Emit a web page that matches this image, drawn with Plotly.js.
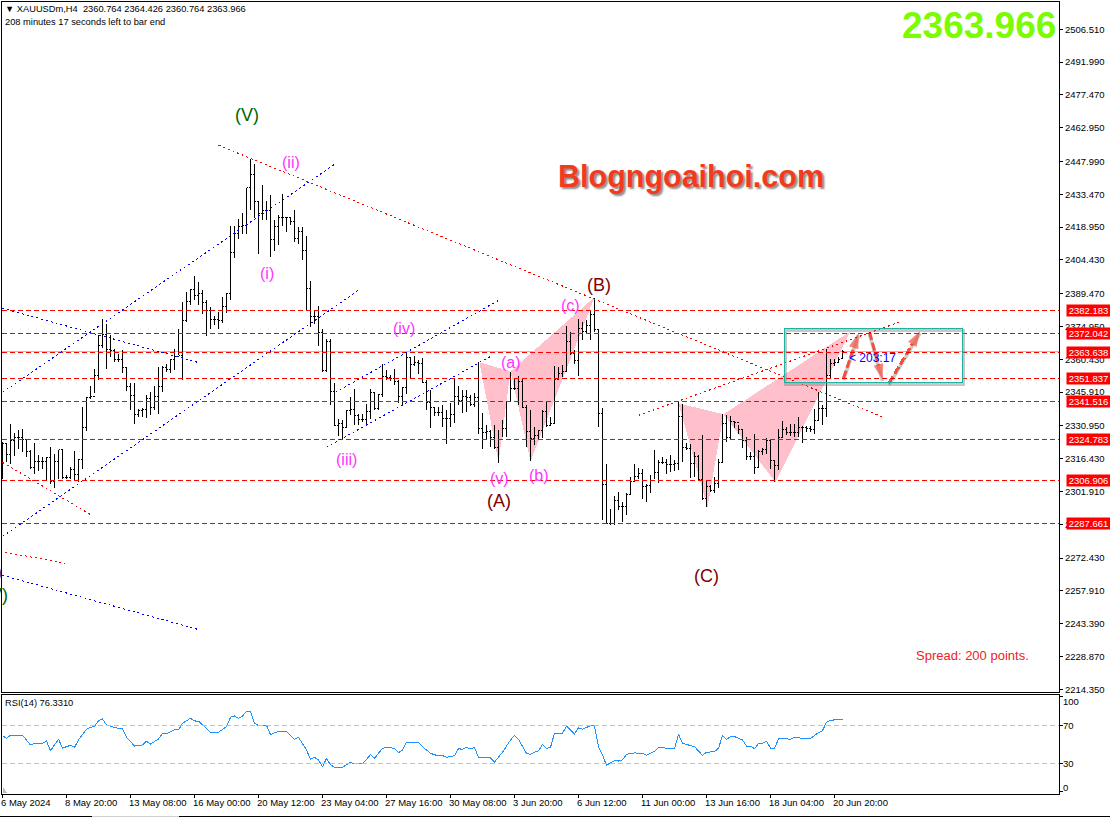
<!DOCTYPE html>
<html><head><meta charset="utf-8">
<script src="https://cdn.plot.ly/plotly-3.0.1.min.js"></script>
<style>html,body{margin:0;padding:0;background:#fff;overflow:hidden}
.js-plotly-plot .plotly .shapelayer path{shape-rendering:crispEdges}
.js-plotly-plot .plotly .ohlclayer path{shape-rendering:crispEdges}
.js-plotly-plot .plotly .scatterlayer .trace:last-child path.js-line{shape-rendering:crispEdges}
</style>
</head><body><div id="chart" style="width:1110px;height:817px"></div>
<script>
const opens=[2320.0,2323.1,2318.4,2324.6,2325.8,2325.8,2324.9,2319.4,2312.5,2315.0,
2315.0,2315.0,2316.9,2306.1,2315.0,2320.4,2308.3,2308.3,2311.6,2309.4,
2316.2,2330.2,2343.4,2344.0,2353.3,2366.6,2371.5,2364.7,2364.4,2360.3,
2360.3,2357.0,2348.5,2344.5,2336.1,2337.6,2338.1,2343.0,2339.3,2343.8,
2348.2,2357.0,2355.8,2360.3,2361.5,2362.2,2377.4,2385.8,2391.4,2388.8,
2389.5,2385.4,2381.8,2378.0,2378.0,2377.7,2383.9,2389.5,2407.8,2416.0,
2419.3,2419.7,2436.4,2442.3,2430.4,2424.9,2426.4,2426.4,2413.4,2419.3,
2423.1,2423.1,2423.1,2421.5,2413.8,2417.1,2408.7,2391.7,2379.4,2379.4,
2372.2,2355.5,2368.1,2346.2,2331.2,2331.9,2330.4,2337.8,2338.1,2335.6,
2333.7,2333.7,2337.1,2345.9,2338.5,2344.7,2352.6,2352.3,2351.8,2350.8,
2344.0,2347.8,2361.4,2358.2,2359.2,2358.5,2350.3,2341.5,2339.1,2336.7,
2336.8,2334.2,2334.2,2336.1,2343.8,2342.0,2343.8,2343.5,2340.5,2343.5,
2329.8,2327.8,2328.3,2325.8,2321.3,2324.9,2329.8,2341.6,2347.4,2347.3,
2350.4,2339.3,2328.3,2325.3,2326.8,2329.0,2337.1,2331.2,2332.0,2351.5,
2354.1,2355.1,2368.1,2363.2,2360.0,2374.0,2372.6,2375.5,2380.3,2373.5,
2336.4,2304.9,2287.7,2287.7,2298.0,2295.1,2295.1,2300.7,2306.1,2308.4,
2309.8,2303.9,2304.6,2306.8,2310.5,2314.9,2314.9,2313.9,2313.9,2314.2,
2335.2,2321.3,2320.9,2314.5,2317.2,2307.1,2298.7,2303.9,2302.4,2305.3,
2314.9,2331.9,2326.0,2332.7,2332.4,2329.3,2324.5,2317.2,2317.2,2312.7,
2319.8,2320.4,2324.5,2315.7,2313.5,2326.0,2329.3,2328.2,2328.2,2328.2,
2330.1,2330.1,2329.7,2329.3,2333.4,2338.5,2338.5,2353.3,2358.5,2359.2,
2360.764];
const highs=[2323.8,2323.1,2331.9,2328.0,2329.0,2329.7,2324.9,2320.1,2323.5,2317.9,
2317.2,2317.2,2321.6,2318.7,2320.4,2320.9,2309.1,2312.8,2319.7,2316.2,
2339.3,2343.8,2348.5,2356.3,2371.0,2378.4,2376.2,2371.0,2365.1,2362.9,
2364.4,2356.7,2349.9,2349.9,2338.6,2339.0,2344.5,2346.0,2348.5,2357.0,
2357.3,2358.5,2360.7,2365.1,2374.0,2385.8,2390.2,2391.7,2397.2,2394.7,
2391.3,2386.5,2383.6,2379.5,2381.4,2387.9,2389.9,2419.3,2419.3,2422.7,
2425.2,2436.4,2449.3,2447.0,2430.4,2437.4,2430.4,2433.0,2422.2,2424.2,
2433.8,2423.4,2423.4,2426.4,2419.0,2419.0,2414.9,2395.1,2382.1,2383.9,
2374.0,2369.6,2369.6,2350.1,2334.1,2333.7,2337.8,2343.7,2347.4,2336.3,
2336.3,2340.8,2347.1,2345.9,2345.2,2358.5,2355.5,2353.3,2356.2,2351.1,
2348.1,2363.6,2361.4,2361.8,2359.9,2361.1,2351.1,2347.0,2339.3,2339.3,
2340.1,2337.9,2341.1,2351.9,2348.6,2346.7,2347.0,2344.5,2345.3,2359.3,
2336.7,2331.2,2329.0,2331.2,2329.0,2333.4,2341.6,2354.8,2351.9,2352.9,
2351.9,2340.1,2337.9,2330.5,2329.3,2337.9,2341.6,2334.9,2357.4,2357.1,
2357.8,2375.0,2372.6,2364.4,2378.4,2376.9,2378.0,2381.8,2387.7,2374.0,
2339.0,2314.2,2294.3,2299.8,2301.7,2297.3,2301.3,2308.3,2314.0,2312.1,
2312.0,2305.3,2309.0,2320.1,2315.7,2317.2,2316.4,2317.9,2316.0,2341.5,
2340.8,2323.4,2323.1,2319.4,2317.9,2326.7,2306.8,2304.6,2308.3,2316.4,
2336.3,2335.6,2335.2,2333.0,2331.2,2329.3,2326.0,2319.4,2327.5,2320.1,
2321.3,2325.7,2325.0,2315.7,2329.7,2333.0,2330.5,2331.6,2331.9,2334.9,
2330.7,2330.7,2330.7,2338.5,2345.9,2340.0,2365.1,2360.7,2360.7,2361.4,
2364.426];
const lows=[2307.6,2315.0,2314.2,2317.5,2320.9,2319.4,2317.2,2312.0,2309.8,2310.8,
2312.0,2306.9,2305.4,2303.5,2307.6,2307.6,2307.6,2307.6,2306.9,2306.1,
2312.0,2328.7,2343.0,2345.5,2351.1,2365.6,2356.0,2361.5,2359.2,2359.2,
2354.4,2346.4,2337.9,2331.9,2334.9,2334.9,2334.6,2335.6,2337.9,2336.4,
2346.0,2354.8,2354.4,2355.5,2362.2,2351.4,2377.0,2384.6,2386.5,2384.3,
2380.6,2370.8,2374.0,2375.5,2373.7,2376.6,2380.9,2386.5,2405.3,2413.8,
2415.7,2416.0,2426.7,2423.0,2407.2,2422.2,2422.2,2405.7,2408.4,2410.9,
2419.3,2416.8,2419.7,2412.4,2411.6,2404.2,2381.8,2374.7,2376.2,2366.3,
2354.8,2354.8,2340.0,2330.7,2326.3,2324.8,2330.0,2335.6,2331.2,2331.2,
2332.6,2331.6,2334.1,2337.8,2337.8,2343.7,2351.1,2350.6,2348.9,2341.0,
2340.0,2345.2,2352.3,2357.3,2354.0,2349.9,2337.8,2329.8,2335.2,2335.2,
2330.5,2322.7,2330.5,2332.0,2340.1,2336.7,2337.1,2339.6,2339.3,2327.5,
2320.5,2325.3,2321.6,2320.5,2314.6,2325.8,2325.8,2341.6,2347.0,2340.1,
2338.9,2321.6,2315.4,2322.4,2325.3,2325.6,2330.5,2331.2,2332.0,2351.5,
2352.6,2354.8,2362.2,2358.2,2352.9,2368.8,2371.8,2368.8,2372.6,2330.5,
2289.1,2287.7,2287.0,2287.0,2293.6,2288.4,2291.4,2300.2,2306.1,2307.6,
2298.7,2297.2,2301.2,2307.6,2305.6,2313.9,2309.8,2310.5,2311.0,2311.5,
2314.9,2320.4,2307.9,2308.3,2306.8,2298.0,2295.0,2301.7,2301.2,2303.6,
2314.6,2323.8,2324.8,2330.2,2327.5,2321.3,2315.7,2315.7,2309.5,2312.7,
2317.9,2318.3,2312.0,2306.1,2311.3,2326.0,2326.7,2326.3,2326.0,2326.0,
2323.3,2328.2,2328.2,2327.5,2333.4,2331.2,2334.9,2352.3,2357.3,2358.8,
2360.764];
const closes=[2323.1,2318.4,2324.6,2325.8,2325.8,2324.9,2319.4,2312.5,2315.0,2315.0,
2315.0,2316.9,2306.1,2315.0,2320.4,2308.3,2308.3,2311.6,2309.4,2316.2,
2330.2,2343.4,2344.0,2353.3,2366.6,2371.5,2364.7,2364.4,2360.3,2360.3,
2357.0,2348.5,2344.5,2336.1,2337.6,2338.1,2343.0,2339.3,2343.8,2348.2,
2357.0,2355.8,2360.3,2361.5,2362.2,2377.4,2385.8,2391.4,2388.8,2389.5,
2385.4,2381.8,2378.0,2378.0,2377.7,2383.9,2389.5,2407.8,2416.0,2419.3,
2419.7,2436.4,2442.3,2430.4,2424.9,2426.4,2426.4,2413.4,2419.3,2423.1,
2423.1,2423.1,2421.5,2413.8,2417.1,2408.7,2391.7,2379.4,2379.4,2372.2,
2355.5,2368.1,2346.2,2331.2,2331.9,2330.4,2337.8,2338.1,2335.6,2333.7,
2333.7,2337.1,2345.9,2338.5,2344.7,2352.6,2352.3,2351.8,2350.8,2344.0,
2347.8,2361.4,2358.2,2359.2,2358.5,2350.3,2341.5,2339.1,2336.7,2336.8,
2334.2,2334.2,2336.1,2343.8,2342.0,2343.8,2343.5,2340.5,2343.5,2329.8,
2327.8,2328.3,2325.8,2321.3,2324.9,2329.8,2341.6,2347.4,2347.3,2350.4,
2339.3,2328.3,2325.3,2326.8,2329.0,2337.1,2331.2,2332.0,2351.5,2354.1,
2355.1,2368.1,2363.2,2360.0,2374.0,2372.6,2375.5,2380.3,2373.5,2336.4,
2304.9,2287.7,2287.7,2298.0,2295.1,2295.1,2300.7,2306.1,2308.4,2309.8,
2303.9,2304.6,2306.8,2310.5,2314.9,2314.9,2313.9,2313.9,2314.2,2335.2,
2321.3,2320.9,2314.5,2317.2,2307.1,2298.7,2303.9,2302.4,2305.3,2314.9,
2331.9,2326.0,2332.7,2332.4,2329.3,2324.5,2317.2,2317.2,2312.7,2319.8,
2320.4,2324.5,2315.7,2313.5,2326.0,2329.3,2328.2,2328.2,2328.2,2330.1,
2330.1,2329.7,2329.3,2333.4,2338.5,2338.5,2353.3,2358.5,2359.2,2360.2,
2363.966];
const rsiBars=[0,1,2,5,7,8,10,11,12,14,15,17,18,19,21,22,23,24,25,26,28,30,31,33,35,36,37,39,40,41,43,44,45,47,48,49,51,52,54,56,57,58,59,60,61,62,63,64,66,67,69,71,73,74,76,77,78,79,80,81,82,83,85,87,88,90,92,93,95,96,98,99,100,101,103,104,105,107,109,110,111,113,114,115,116,117,118,119,122,123,125,127,128,129,131,132,133,134,135,136,137,138,140,141,143,144,145,147,148,149,150,151,152,153,154,155,156,158,160,161,163,164,168,169,170,172,173,175,176,178,179,180,181,182,183,185,186,187,188,189,190,191,192,193,194,195,197,198,199,202,204,205,206,207,209,210];
const rsiValues=[59.1,56.3,59.5,59.5,49.3,51.0,51.0,53.5,43.3,55.3,46.1,48.9,46.8,54.6,65.8,67.9,68.6,74.9,76.7,70.4,67.5,66.5,57.4,48.2,49.3,53.2,50.3,55.6,61.6,60.9,65.1,65.1,72.1,77.4,74.6,74.2,66.8,62.6,62.6,68.6,78.4,79.8,77.4,79.8,84.7,84.7,72.1,69.6,70.0,60.2,63.7,63.7,55.3,57.4,44.0,34.2,36.3,33.5,26.5,34.9,28.6,25.8,25.8,31.0,29.3,29.3,39.1,35.3,45.8,46.8,45.8,41.2,44.0,52.1,51.7,52.1,47.5,40.5,37.7,38.1,36.3,38.1,45.4,44.7,46.8,45.1,46.8,36.0,35.6,31.4,41.6,54.6,59.5,55.3,40.5,39.5,41.6,43.0,50.0,45.8,46.8,61.6,61.6,69.3,60.9,67.5,65.8,69.6,69.3,47.5,38.8,27.9,30.7,32.8,32.4,33.5,39.5,40.9,40.5,38.4,42.6,46.8,45.1,60.5,51.0,48.2,47.5,38.4,41.6,42.3,45.8,59.1,54.9,58.1,58.1,54.6,48.2,48.2,45.4,50.7,51.0,53.2,46.1,45.4,55.6,56.3,55.3,57.4,56.7,56.0,62.3,64.4,73.2,75.3,75.6,76.33];
const timeLabels=['6 May 2024','8 May 20:00','13 May 08:00','16 May 00:00','20 May 12:00','23 May 04:00','27 May 16:00','30 May 08:00','3 Jun 20:00','6 Jun 12:00','11 Jun 00:00','13 Jun 16:00','18 Jun 04:00','20 Jun 20:00'];
const timeBars=[0,16,32,48,64,80,96,112,128,144,160,176,192,208];
const priceTicks=[2506.51,2491.99,2477.47,2462.95,2447.99,2433.47,2418.95,2404.43,2389.47,2374.95,2360.43,2345.91,2330.95,2316.43,2301.91,2287.39,2272.43,2257.91,2243.39,2228.87,2214.35];
const levels=[2382.183,2372.042,2363.638,2351.837,2341.516,2324.783,2306.906,2287.661];
const lastPrice=2363.966;
const rsiTicks=[100,70,30,0];
const redLines=[[54,2455.2,220.75,2334.3],[159,2335.6,224.75,2377.2],[0,2314.8,22.75,2290.9],[-0.5,2275.4,15.75,2270.1]];
const blueLines=[[0,2345.8,83,2446.7],[0,2282.0,89,2391.0],[0,2383.0,48.75,2359.1],[0,2264.8,48.75,2240.9],[83.25,2345.8,124,2386.5],[81,2321.5,122,2361.7]];
const pinkTriangles=[
 {x:[119.25,124,127],y:[2359.1,2314.8,2355.1]},
 {x:[127,132,148],y:[2355.1,2315.3,2387.9]},
 {x:[169,176.25,180.25],y:[2340.9,2294.9,2336.1]},
 {x:[180.25,193.25,212],y:[2336.1,2306.0,2372.8]}];
const arrows=[[210.25,2352.0,214,2371.9],[216.75,2372.4,220,2351.6],[221.6,2349.8,229.4,2372.8]];
const boxBars=[195.5,240], boxPrices=[2350.2,2374.1];
const waveMagenta=[['(ii)',72,2447.6],['(i)',66,2398.5],['(iii)',86,2316.1],['(iv)',100.25,2374.1],['(v)',124.25,2307.7],['(a)',127,2359.1],['(b)',134,2309.1],['(c)',142,2384.3]];
const waveMaroon=[['(A)',124,2297.5],['(B)',149,2393.2],['(C)',176,2264.3]];

const FONT='"Liberation Sans", Arial, sans-serif';
const TICKFONT={family:FONT,size:9.5,color:'#000'};
const traces=[];
traces.push({type:'ohlc',x:closes.map((_,i)=>i),open:opens,high:highs,low:lows,close:closes,tickwidth:0.4,
 increasing:{line:{color:'#000',width:1}},decreasing:{line:{color:'#000',width:1}},xaxis:'x',yaxis:'y',hoverinfo:'skip'});
arrows.forEach(a=>{
 traces.push({type:'scatter',mode:'lines',x:[a[0],a[2]],y:[a[1]-0.8,a[3]-0.8],line:{color:'rgba(120,120,120,0.4)',width:3.5},hoverinfo:'skip',xaxis:'x',yaxis:'y'});
 traces.push({type:'scatter',mode:'lines+markers',x:[a[0],a[2]],y:[a[1],a[3]],line:{color:'#F2503F',width:3,dash:'8px,3px'},marker:{symbol:'arrow',angleref:'previous',size:[0,16],color:'#F2503F',line:{width:0}},hoverinfo:'skip',xaxis:'x',yaxis:'y'});
});
traces.push({type:'scatter',mode:'lines',x:rsiBars,y:rsiValues,line:{color:'#1E90FF',width:1},xaxis:'x2',yaxis:'y2',hoverinfo:'skip'});

const shapes=[];
pinkTriangles.forEach(t=>shapes.push({type:'path',xref:'x',yref:'y',layer:'below',path:t.x.map((v,k)=>(k?'L':'M')+v+' '+t.y[k]).join(' ')+' Z',fillcolor:'#FFC0CB',line:{width:0}}));
levels.forEach(v=>shapes.push({type:'line',xref:'paper',x0:0,x1:1,yref:'y',y0:v,y1:v,line:{color:'#FF0000',width:1,dash:'5px,3px'},layer:'above'}));
shapes.push({type:'line',xref:'paper',x0:0,x1:1,yref:'y',y0:lastPrice,y1:lastPrice,line:{color:'#BDBDBD',width:1},layer:'below'});
redLines.forEach(l=>shapes.push({type:'line',xref:'x',yref:'y',x0:l[0],y0:l[1],x1:l[2],y1:l[3],line:{color:'#FF0000',width:1,dash:'2px,3px'}}));
blueLines.forEach(l=>shapes.push({type:'line',xref:'x',yref:'y',x0:l[0],y0:l[1],x1:l[2],y1:l[3],line:{color:'#0000FF',width:1,dash:'2px,3px'}}));
shapes.push({type:'rect',xref:'x',yref:'y',x0:boxBars[0]+0.3,x1:boxBars[1]+0.2,y0:boxPrices[0]-1.0,y1:boxPrices[1]-1.0,line:{color:'rgba(130,130,130,0.45)',width:2.5}});
shapes.push({type:'rect',xref:'x',yref:'y',x0:boxBars[0],x1:boxBars[1],y0:boxPrices[0],y1:boxPrices[1],line:{color:'#20B2A0',width:1.5}});
[30,70].forEach(v=>shapes.push({type:'line',xref:'paper',x0:0,x1:1,yref:'y2',y0:v,y1:v,line:{color:'#C0C0C0',width:1,dash:'5px,3px'}}));
shapes.push({type:'path',xref:'x2',yref:'y2',path:'M 0 6 L 1.2 -1.5 L 0 -1.5 Z',fillcolor:'#BBBBBB',line:{width:0}});
shapes.push({type:'line',xref:'paper',yref:'paper',x0:-0.002,x1:0.085,y0:-0.0278,y1:-0.0278,line:{color:'#000',width:1}});
shapes.push({type:'line',xref:'paper',yref:'paper',x0:0.085,x1:0.167,y0:-0.0278,y1:-0.0278,line:{color:'#D0D0D0',width:1}});
shapes.push({type:'line',xref:'paper',yref:'paper',x0:0.167,x1:1.05,y0:-0.0278,y1:-0.0278,line:{color:'#000',width:1}});

const ann=[];
const txt=(o)=>Object.assign({showarrow:false,xanchor:'center',yanchor:'middle',borderpad:0},o);
const px2x=p=>(p-2)/1057, py2y=p=>(794-p)/792;
levels.forEach(v=>ann.push(txt({xref:'paper',yref:'y',x:px2x(1066),y:v,xanchor:'left',width:43,height:11,align:'center',text:v.toFixed(3),bgcolor:'#FF0000',font:{family:FONT,size:9.5,color:'#fff'}})));
waveMagenta.forEach(w=>ann.push(txt({xref:'x',yref:'y',x:w[1],y:w[2],text:w[0],font:{family:FONT,size:16,color:'#FF33FF'}})));
waveMaroon.forEach(w=>ann.push(txt({xref:'x',yref:'y',x:w[1],y:w[2],text:w[0],font:{family:FONT,size:18,color:'#800000'}})));
ann.push(txt({xref:'x',yref:'y',x:61,y:2468.4,text:'(V)',font:{family:FONT,size:18,color:'#006400'}}));
ann.push(txt({xref:'x',yref:'y',x:1.5,y:2255.9,xanchor:'right',text:'(V)',font:{family:FONT,size:18,color:'#006400'}}));
ann.push(txt({xref:'x',yref:'y',x:0,y:2266.1,xanchor:'right',text:'(C)',font:{family:FONT,size:18,color:'#800000'}}));
ann.push(txt({xref:'paper',yref:'paper',x:px2x(691),y:py2y(177),text:'Blogngoaihoi.com',font:{family:FONT,size:30.5,weight:700,color:'#F23B1E',shadow:'2px 2px 2px #8a8a8a'}}));
ann.push(txt({xref:'paper',yref:'paper',x:px2x(1057),y:py2y(25),xanchor:'right',text:lastPrice.toFixed(3),font:{family:FONT,size:37,weight:700,color:'#7CFC00'}}));
ann.push(txt({xref:'paper',yref:'paper',x:px2x(915),y:py2y(655),xanchor:'left',text:'Spread: 200 points.',font:{family:FONT,size:13,color:'#EE2222'}}));
ann.push(txt({xref:'x',yref:'y',x:211.25,y:2360.9,xanchor:'left',text:'&lt; 203:17',font:{family:FONT,size:12,color:'#0000FF'}}));
ann.push(txt({xref:'paper',yref:'paper',x:px2x(4),y:py2y(9),xanchor:'left',text:'▼ XAUUSDm,H4  2360.764 2364.426 2360.764 2363.966',font:{family:FONT,size:9.3,color:'#000'}}));
ann.push(txt({xref:'paper',yref:'paper',x:px2x(4),y:py2y(22),xanchor:'left',text:'208 minutes 17 seconds left to bar end',font:{family:FONT,size:9.3,color:'#000'}}));
ann.push(txt({xref:'paper',yref:'paper',x:px2x(4),y:py2y(703),xanchor:'left',text:'RSI(14) 76.3310',font:{family:FONT,size:9.3,color:'#000'}}));
timeLabels.forEach((t,k)=>ann.push(txt({xref:'x2',yref:'paper',x:timeBars[k],y:py2y(802),xshift:-3,xanchor:'left',text:t,font:TICKFONT})));
const rsiShift={100:-5,70:0,30:0,0:4};
rsiTicks.forEach(v=>ann.push(txt({xref:'paper',yref:'y2',x:px2x(1062),y:v,yshift:rsiShift[v],xanchor:'left',text:String(v),font:TICKFONT})));

const layout={width:1110,height:817,margin:{l:2,r:51,t:2,b:23,pad:0},paper_bgcolor:'#fff',plot_bgcolor:'rgba(0,0,0,0)',showlegend:false,hovermode:false,
 xaxis:{domain:[0,1],range:[-0.125,264.125],anchor:'y',showticklabels:false,ticks:'',showgrid:false,zeroline:false,showline:true,mirror:true,linecolor:'#000',linewidth:1,rangeslider:{visible:false}},
 yaxis:{domain:[0.12816,1],range:[2212.91,2518.59],side:'right',anchor:'x',tickmode:'array',tickvals:priceTicks,ticktext:priceTicks.map(v=>v.toFixed(3)),ticks:'outside',ticklen:3,tickcolor:'#000',tickfont:TICKFONT,showgrid:false,zeroline:false,showline:true,mirror:true,linecolor:'#000',linewidth:1},
 xaxis2:{domain:[0,1],range:[-0.125,264.125],anchor:'y2',tickmode:'array',tickvals:timeBars,ticktext:timeBars.map(()=>''),ticks:'outside',ticklen:3,tickcolor:'#000',showgrid:false,zeroline:false,showline:true,mirror:true,linecolor:'#000',linewidth:1},
 yaxis2:{domain:[0,0.1254],range:[-2.3,102.2],side:'right',anchor:'x2',tickmode:'array',tickvals:rsiTicks,ticktext:rsiTicks.map(()=>''),ticks:'outside',ticklen:3,tickcolor:'#000',showgrid:false,zeroline:false,showline:true,mirror:true,linecolor:'#000',linewidth:1},
 shapes:shapes,annotations:ann};
Plotly.newPlot('chart',traces,layout,{displayModeBar:false,staticPlot:true});
</script></body></html>
